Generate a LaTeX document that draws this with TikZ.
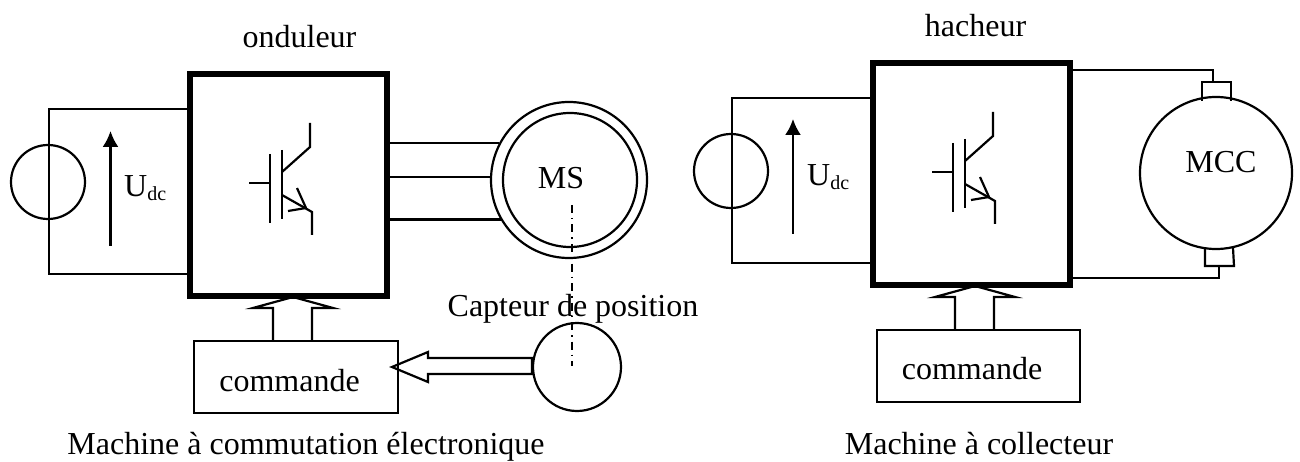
\documentclass[tikz,border=0pt]{standalone}
\usepackage{fontspec}
\setmainfont{Liberation Serif}
\usetikzlibrary{arrows.meta}

\tikzset{
  pics/igbt/.style={code={
    \draw (0,0) -- (21,0);
    \draw (21,-29) -- (21,40);
    \draw (33,-33) -- (33,36);
    \draw (33,-11) -- (61,-36) -- (61,-60);
    \draw (33,12) -- (63,29) -- (63,52);
    \draw (48,5) -- (57,25) -- (39,28);
  }}
}
\newcommand{\flechehaut}[1]{
  \draw[trait] (#1) ++(-20,44) -- ++(0,-33) -- ++(-20,0) -- (#1)
    -- ++(40,11) -- ++(-21,0) -- ++(0,33);
}

\begin{document}
\begin{tikzpicture}[x=1pt,y=-1pt,
  trait/.style={line width=2.2pt},
  texte/.style={inner sep=0pt,anchor=base,font=\fontsize{32}{38}\selectfont},
  bloc/.style={draw,line width=6pt,inner sep=0pt,minimum width=197pt,minimum height=222pt},
  cadre/.style={draw,trait,inner sep=0pt,minimum width=204pt,minimum height=72pt},
  rond/.style={draw,trait,circle,inner sep=0pt,minimum size=#1},
  axe/.style={line width=1.6pt,dash pattern=on 8pt off 5pt on 1.5pt off 5pt},
  flecheU/.style={trait,-{Latex[length=16pt,width=16pt]}}]
  \useasboundingbox (0,0) rectangle (1300,462);

  % machine a commutation electronique
  \node[bloc] (ond) at (288.5,185) {};
  \node[cadre] (cmdA) at (296,377) {};
  \node[rond=74pt] (srcA) at (48,182) {};
  \node[rond=156pt] (msext) at (569,180) {};
  \node[rond=134pt] (msint) at (570,180) {};
  \node[rond=88pt] (capt) at (577,367) {};

  \coordinate (hautA) at (49,109);
  \coordinate (basA) at (49,274);
  \draw[trait] (ond.west |- hautA) -- (hautA) -- (basA) -- (ond.west |- basA);
  \draw[trait] (ond.east |- msext.152) -- (msext.152);
  \draw[trait] (ond.east |- msext.178) -- (msext.178);
  \draw[trait] (ond.east |- msext.210) -- (msext.210);

  \coordinate (uhautA) at (110.5,131);
  \coordinate (ubasA) at (110.5,246);
  \draw[flecheU] (ubasA) -- (uhautA);
  \pic[trait] at (249,183) {igbt};

  \coordinate (pointeA) at (293,297);
  \flechehaut{pointeA}

  \coordinate (axeA) at (572,205);
  \coordinate (axeB) at (572,366);
  \draw[axe] (axeA) -- (axeB);

  \coordinate (pointeC) at (392,367);
  \draw[trait] (capt.west |- 0,358) -- (428,358) -- (428,352) -- (pointeC)
    -- (428,382) -- (428,374) -- (capt.west |- 0,374) -- cycle;

  \node[texte] (tond) at (299.5,48) {onduleur};
  \node[texte,anchor=base west] (tuA) at (124,197) {U\raisebox{-4pt}{\fontsize{20}{20}\selectfont dc}};
  \node[texte] (tms) at (561,189) {MS};
  \node[texte] (tcapt) at (573,316) {Capteur de position};
  \node[texte] (tcmdA) at (289.5,391) {commande};
  \node[texte] (tmA) at (306,454) {Machine à commutation électronique};

  % machine a collecteur
  \node[bloc] (hach) at (971.5,174) {};
  \node[cadre,minimum width=203pt] (cmdB) at (978.5,366) {};
  \node[rond=74pt] (srcB) at (731,171) {};
  \node[rond=152pt] (mcc) at (1216,173) {};

  \coordinate (hautB) at (732,98);
  \coordinate (basB) at (732,263);
  \draw[trait] (hach.west |- hautB) -- (hautB) -- (basB) -- (hach.west |- basB);

  \coordinate (balaiH) at (1213,82);
  \coordinate (balaiB) at (1219,266);
  \coordinate (filH) at (1213,70);
  \coordinate (filB) at (1219,278);
  \draw[trait] (hach.east |- filH) -- (filH) -- (balaiH);
  \draw[trait] (hach.east |- filB) -- (filB) -- (balaiB);
  \draw[trait] (1202,101) -- (1202,82) -- (1231,82) -- (1231,101);
  \draw[trait] (1205,248) -- (1205,266) -- (1234,266) -- (1233,248);

  \coordinate (uhautB) at (793,119);
  \coordinate (ubasB) at (793,234);
  \draw[flecheU] (ubasB) -- (uhautB);
  \pic[trait] at (932,172) {igbt};

  \coordinate (pointeB) at (975,286);
  \flechehaut{pointeB}

  \node[texte] (thach) at (975.5,37) {hacheur};
  \node[texte,anchor=base west] (tuB) at (807,186) {U\raisebox{-4pt}{\fontsize{20}{20}\selectfont dc}};
  \node[texte] (tmcc) at (1221,173) {MCC};
  \node[texte] (tcmdB) at (972,379) {commande};
  \node[texte] (tmB) at (979,454) {Machine à collecteur};
\end{tikzpicture}
\end{document}
